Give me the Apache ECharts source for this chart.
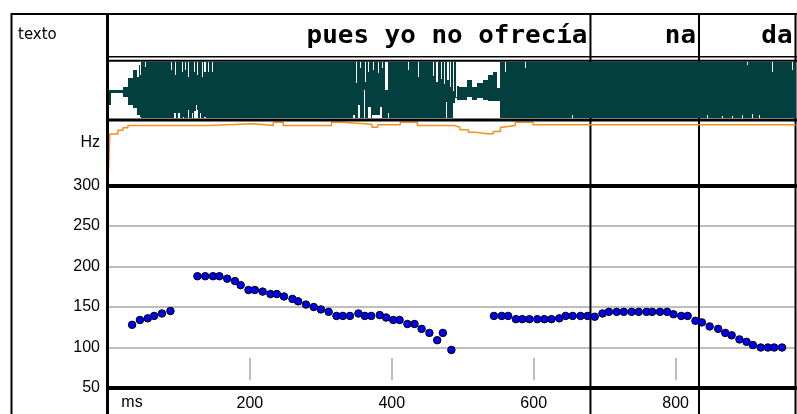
<!DOCTYPE html>
<html>
<head>
<meta charset="utf-8">
<script src="https://cdn.jsdelivr.net/npm/echarts@6/dist/echarts.min.js"></script>
<style>
  html, body { margin: 0; padding: 0; background: #fff; }
  #chart { width: 797px; height: 414px; }
</style>
</head>
<body>
<div id="chart"></div>
<script>
// Time span of the utterance (ms)
const timeMax = 969;

// Orthographic tier: each word and the time where it ends
const words = ['pues yo no ofrecía', 'na', 'da'];
const wordEndMs = [680, 833, 969];

// Pitch track (F0), one point per analysis frame
const pitchMs = [
  34, 45, 56, 65, 76, 88,
  126, 137, 148, 157, 168, 179, 187, 198, 207, 218,
  229, 238, 248, 260, 268, 279, 290, 300, 311, 322,
  331, 341, 353, 362, 371, 383, 392, 402, 411, 422,
  432, 442, 453, 464, 472, 484,
  544, 555, 564, 575, 584, 594, 605, 615, 625, 636,
  645, 655, 666, 676, 686, 697, 706, 717, 727, 738,
  748, 759, 767, 778, 788, 797, 808, 817, 828, 837,
  848, 860, 870, 879, 890, 900, 909, 920, 930, 939, 950
];
const pitchHz = [
  128, 134, 136, 139, 142, 145,
  188, 188, 188, 188, 185, 182, 177, 171, 171, 169,
  166, 166, 163, 160, 157, 153, 150, 147, 144, 139,
  139, 139, 142, 139, 139, 140, 137, 134, 134, 129,
  129, 123, 118, 109, 118, 97,
  139, 139, 139, 135, 135, 135, 135, 135, 135, 136,
  139, 139, 139, 139, 138, 142, 144, 144, 144, 144,
  144, 144, 144, 144, 144, 141, 139, 139, 133, 131,
  126, 123, 118, 115, 110, 107, 103, 100, 100, 100, 100
];

// Intensity curve (relative level 0-100), each level holds until the next time
const intensityMs = [0, 2.5, 7, 14, 21, 28, 141, 205, 233, 247, 315, 329, 372, 380, 412, 436,
  487, 496, 508, 518, 535, 543, 553, 556, 574, 599, 969];
const intensityLevel = [0, 80, 80, 86, 90, 94, 96.5, 94, 99, 94, 99, 96, 91, 95, 99, 94,
  91, 87, 83, 80.5, 80.5, 84, 91, 94, 99, 95, 95];

// Waveform envelope (normalised amplitude, clipped at +/-1); each step holds until the next start
const waveStartMs = [
  0, 4, 21, 28, 35, 41, 43, 45, 47, 51.5, 53,
  89, 90.5, 93, 94, 95.5, 99, 101, 102, 104, 105.5, 107, 109, 110.5, 113, 114.5,
  118, 119.5, 121, 122.5, 124.5, 126, 127.5, 129, 130.5, 132, 133.5, 136, 137.5,
  141, 142.5, 146, 147.5,
  346, 347.5, 350, 351.5, 353, 354.5, 356, 361, 362.5, 364, 367, 368.5, 370,
  372, 374, 375.5, 380, 381.5, 384, 385.5, 387, 391, 394, 395.5,
  423, 424.5, 437, 438.5, 458, 459.5, 463, 464.5, 469, 470.5, 474, 475.5,
  477, 478.5, 480, 482, 483.5, 486, 487.5, 489, 491, 492.5,
  495, 506, 513, 520, 529, 536, 543, 548, 553, 560, 561.5, 588, 589.5,
  654, 655.5, 844, 845.5, 865, 866.5, 880, 881.5, 893, 894.5, 900, 901.5,
  908, 909.5, 917, 918.5, 936, 937.5, 964, 965.5
];
const waveTop = [
  0, 0, 0.12, 0.41, 0.7, 0.47, 0.9, 0.53, 1, 0.82, 1,
  0.7, 1, 1, 0.53, 1, 1, 0.76, 1, 0.65, 1, 1, 0.7, 1, 0.47, 1,
  1, 1, 0.65, 1, 1, 0.53, 1, 1, 1, 0.47, 1, 0.65, 1,
  0.65, 1, 0.65, 1,
  1, 1, 0.24, 1, 1, 0.77, 1, 1, 0.29, 1, 0.65, 1, 1,
  1, 0.71, 1, 0.59, 1, 1, 0.77, 1, 0, 1, 1,
  0.71, 1, 0.47, 1, 0.5, 1, 0.3, 1, 0.4, 1, 0.2, 1,
  1, 0.35, 1, 0.1, 1, -0.05, 1, 1, -0.25, 0.15,
  0.1, 0.35, 0.12, 0.24, 0.35, 0.53, 0.65, 0.07, 1, 0.65, 1, 0.77, 1,
  1, 1, 1, 1, 1, 1, 1, 1, 1, 1, 0.9, 1,
  1, 1, 1, 1, 0.65, 1, 0.7, 1
];
const waveBottom = [
  -0.53, -0.12, -0.24, -0.53, -0.65, -0.88, -0.88, -0.95, -1, -1, -1,
  -1, -1, -0.82, -0.82, -1, -0.82, -0.82, -1, -1, -0.95, -1, -1, -1, -0.7, -1,
  -0.82, -1, -0.75, -0.75, -0.53, -0.7, -1, -0.82, -1, -1, -1, -0.95, -1,
  -1, -1, -1, -1,
  -0.88, -1, -1, -1, -0.53, -1, -1, 0, -1, -1, -0.6, -0.6, -1,
  -0.88, -0.88, -0.88, -0.88, -0.88, -0.6, -1, -1, -1, -0.82, -1,
  -1, -1, -1, -1, -1, -1, -1, -1, -1, -1, -1, -1,
  -0.41, -1, -1, -1, -1, -0.45, -0.45, -0.3, -0.3, -0.35,
  -0.35, -0.25, -0.35, -0.3, -0.35, -0.4, -0.4, -0.4, -1, -1, -1, -1, -1,
  -0.88, -1, -0.9, -1, -0.92, -1, -0.92, -1, -0.9, -1, -1, -1,
  -0.85, -1, -0.9, -1, -1, -1, -1, -1
];

// Axis labels shown under the pitch panel
const msTickLabels = [200, 400, 600, 800];

const waveColor = '#033f3f';
const intensityColor = '#f39020';
const gridColor = '#a8a8a8';
const plotLeft = 108, plotRight = 1.5;

const chart = echarts.init(document.getElementById('chart'), null, { renderer: 'canvas' });

const hiddenX = (gridIndex) => ({
  type: 'value', gridIndex, min: 0, max: timeMax, show: false
});

const option = {
  backgroundColor: '#fff',
  animation: false,
  grid: [
    { left: plotLeft, right: plotRight, top: 15, height: 41 },        // word tier
    { left: plotLeft, right: plotRight, top: 61.7, height: 56.6 },    // waveform
    { left: plotLeft, right: plotRight, top: 121.7, height: 61.5 },   // intensity
    { left: plotLeft, right: plotRight, top: 185.5, bottom: 26 },     // pitch
    { left: plotLeft, right: plotRight, top: 13, bottom: 0 }          // full height, for word boundaries
  ],
  xAxis: [
    hiddenX(0),
    hiddenX(1),
    hiddenX(2),
    {
      type: 'value', gridIndex: 3, min: 0, max: timeMax, interval: 200, position: 'bottom',
      axisLine: { show: true, lineStyle: { color: '#000', width: 4 } },
      axisTick: { show: false },
      splitLine: { show: false },
      axisLabel: {
        margin: 8, color: '#000', fontSize: 16, fontFamily: 'Liberation Sans',
        customValues: msTickLabels
      }
    },
    {
      type: 'value', gridIndex: 3, min: 0, max: timeMax, position: 'top',
      axisLine: { show: true, lineStyle: { color: '#000', width: 4 } },
      axisTick: { show: false }, axisLabel: { show: false }, splitLine: { show: false }
    },
    {
      type: 'value', gridIndex: 3, min: 0, max: timeMax, interval: 200, position: 'bottom', offset: -8,
      axisLine: { show: false },
      axisTick: { show: true, inside: true, length: 22, customValues: msTickLabels, lineStyle: { color: gridColor, width: 1.5 } },
      axisLabel: { show: false }, splitLine: { show: false }
    },
    hiddenX(4)
  ],
  yAxis: [
    { type: 'value', gridIndex: 0, min: 0, max: 1, show: false },
    { type: 'value', gridIndex: 1, min: -1, max: 1, show: false },
    { type: 'value', gridIndex: 2, min: 0, max: 100, show: false },
    {
      type: 'value', gridIndex: 3, min: 50, max: 300, interval: 50,
      axisLine: { show: false }, axisTick: { show: false },
      axisLabel: { margin: 8, color: '#000', fontSize: 16, fontFamily: 'Liberation Sans' },
      splitLine: { show: true, lineStyle: { color: gridColor, width: 1.5 } }
    },
    { type: 'value', gridIndex: 4, min: 0, max: 1, show: false }
  ],
  graphic: [
    // panel frame
    { type: 'line', z: 10, shape: { x1: 11.5, y1: 13, x2: 11.5, y2: 414 }, style: { stroke: '#000', lineWidth: 2 } },
    { type: 'line', z: 10, shape: { x1: 11, y1: 14, x2: 797, y2: 14 }, style: { stroke: '#000', lineWidth: 2 } },
    { type: 'line', z: 10, shape: { x1: 107.5, y1: 13, x2: 107.5, y2: 414 }, style: { stroke: '#000', lineWidth: 3 } },
    { type: 'line', z: 10, shape: { x1: 108, y1: 56.8, x2: 797, y2: 56.8 }, style: { stroke: '#000', lineWidth: 1.5 } },
    { type: 'line', z: 10, shape: { x1: 108, y1: 60.8, x2: 797, y2: 60.8 }, style: { stroke: '#000', lineWidth: 2 } },
    { type: 'line', z: 10, shape: { x1: 108, y1: 120, x2: 797, y2: 120 }, style: { stroke: '#000', lineWidth: 3 } },
    // tier / unit names
    { type: 'text', z: 10, style: { x: 18, y: 35, text: 'texto', fill: '#000', font: '15px "DejaVu Sans"', textVerticalAlign: 'middle' } },
    { type: 'text', z: 10, style: { x: 100, y: 143, text: 'Hz', fill: '#000', font: '16px "Liberation Sans"', textAlign: 'right', textVerticalAlign: 'middle' } },
    { type: 'text', z: 10, style: { x: 132, y: 403, text: 'ms', fill: '#000', font: '16px "Liberation Sans"', textAlign: 'center', textVerticalAlign: 'middle' } }
  ],
  series: [
    {
      // word boundaries across all tiers
      type: 'custom', xAxisIndex: 6, yAxisIndex: 4, z: 1, silent: true,
      data: wordEndMs.map((t) => [t, 0]),
      renderItem: (params, api) => {
        const a = api.coord([api.value(0), 1]);
        const b = api.coord([api.value(0), 0]);
        return { type: 'line', shape: { x1: a[0], y1: a[1], x2: b[0], y2: b[1] }, style: { stroke: '#000', lineWidth: 2 } };
      }
    },
    {
      // word labels, right-aligned against their end boundary
      type: 'custom', xAxisIndex: 0, yAxisIndex: 0, z: 3, silent: true,
      data: words.map((w, i) => [wordEndMs[i], 0.5]),
      renderItem: (params, api) => {
        const p = api.coord([api.value(0), api.value(1)]);
        return {
          type: 'text', x: p[0] - 3, y: p[1] + 1, scaleX: 1.08,
          style: {
            x: 0, y: 0, text: words[params.dataIndex], fill: '#000',
            font: 'bold 24px "DejaVu Sans Mono"', textAlign: 'right', textVerticalAlign: 'middle'
          }
        };
      }
    },
    {
      // waveform envelope: one filled step per segment
      type: 'custom', xAxisIndex: 1, yAxisIndex: 1, z: 3, silent: true,
      data: waveStartMs.map((t, i) => [t, waveTop[i]]),
      renderItem: (params, api) => {
        const i = params.dataIndex;
        const t0 = waveStartMs[i];
        const t1 = i + 1 < waveStartMs.length ? waveStartMs[i + 1] : timeMax;
        const p0 = api.coord([t0, waveTop[i]]);
        const p1 = api.coord([t1, waveBottom[i]]);
        const x0 = Math.round(p0[0]), x1 = Math.round(p1[0]);
        const y0 = Math.round(p0[1]), y1 = Math.round(p1[1]);
        return { type: 'rect', shape: { x: x0, y: y0, width: x1 - x0, height: Math.max(1, y1 - y0) }, style: { fill: waveColor } };
      }
    },
    {
      type: 'line', xAxisIndex: 2, yAxisIndex: 2, z: 3, step: 'end', symbol: 'none', silent: true,
      data: intensityMs.map((t, i) => [t, intensityLevel[i]]),
      lineStyle: { color: intensityColor, width: 1.5 }
    },
    {
      type: 'scatter', xAxisIndex: 3, yAxisIndex: 3, z: 4, silent: true,
      symbol: 'circle', symbolSize: 7.5,
      data: pitchMs.map((t, i) => [t, pitchHz[i]]),
      itemStyle: { color: '#0000ee', borderColor: '#000', borderWidth: 1, opacity: 1 }
    }
  ]
};

chart.setOption(option);
</script>
</body>
</html>
